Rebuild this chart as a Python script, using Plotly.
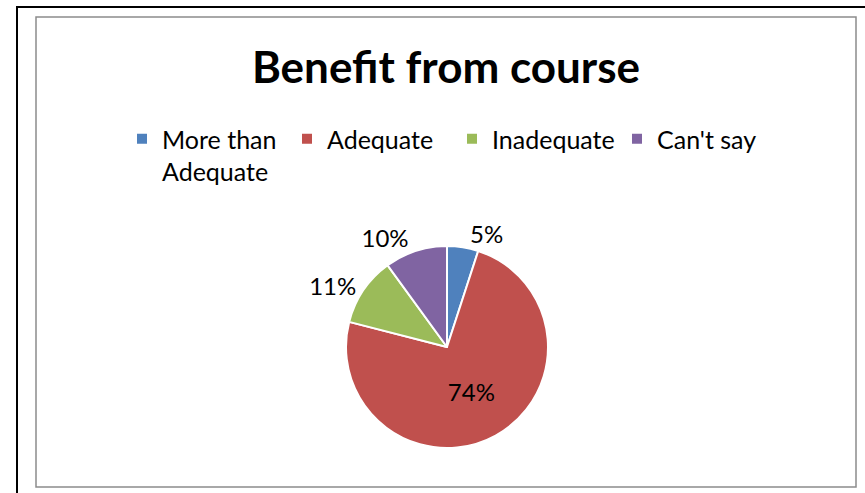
import plotly.graph_objects as go

W, H = 865, 493

labels = ["More than<br>Adequate", "Adequate", "Inadequate", "Can't say"]
values = [5, 74, 11, 10]
colors = ["#4F81BD", "#C0504D", "#9BBB59", "#8064A2"]
positions = ["outside", "inside", "outside", "outside"]


def px_x(v):
    return v / W


def px_y(v):
    return 1 - v / H


cx, cy, r = 447, 347, 101

fig = go.Figure()
fig.add_trace(go.Pie(
    labels=labels, values=values, sort=False, direction="clockwise",
    rotation=0,
    marker=dict(colors=colors, line=dict(color="white", width=2)),
    textinfo="percent", textposition=positions,
    textfont=dict(family="Lato", size=24, color="black"),
    domain=dict(x=[px_x(cx - r), px_x(cx + r)], y=[px_y(cy + r), px_y(cy - r)]),
    showlegend=True,
))

fig.update_layout(
    width=W, height=H,
    margin=dict(l=0, r=0, t=0, b=0),
    paper_bgcolor="white",
    plot_bgcolor="white",
    font=dict(family="Lato", color="black"),
    title=dict(text="<b>Benefit from course</b>", x=px_x(446), xanchor="center",
               y=px_y(68), yanchor="middle",
               font=dict(family="Lato", size=44, color="black")),
    legend=dict(orientation="h", x=px_x(122), xanchor="left",
                y=px_y(116), yanchor="top", valign="top",
                font=dict(family="Lato", size=25, color="black"),
                entrywidth=120, entrywidthmode="pixels",
                bgcolor="rgba(0,0,0,0)", traceorder="normal"),
    shapes=[
        dict(type="rect", xref="paper", yref="paper",
             x0=px_x(17), x1=px_x(880), y0=px_y(510), y1=px_y(7),
             line=dict(color="black", width=2)),
        dict(type="rect", xref="paper", yref="paper",
             x0=px_x(36), x1=px_x(856), y0=px_y(487), y1=px_y(17),
             line=dict(color="#8c8c8c", width=1.5)),
    ],
)

fig.write_html("out.html", config={"displayModeBar": False},
               post_script="document.body.style.margin='0';"
                           "document.body.style.overflow='hidden';")
